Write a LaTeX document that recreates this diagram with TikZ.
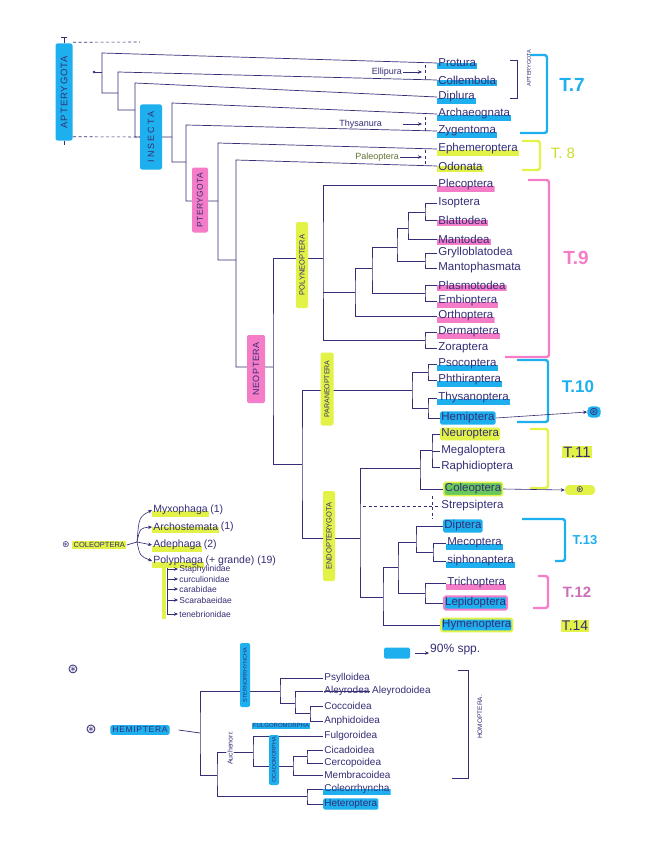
\documentclass[tikz,border=0pt]{standalone}
\usepackage{fontspec}
\setmainfont{Liberation Sans}
\newfontfamily\symf{DejaVu Sans}
\usetikzlibrary{arrows.meta}
\definecolor{ink}{RGB}{52,46,118}
\definecolor{sky}{RGB}{30,176,238}
\definecolor{rose}{RGB}{245,125,200}
\definecolor{lime}{RGB}{226,242,70}
\definecolor{limetxt}{RGB}{206,220,40}
\definecolor{moss}{RGB}{104,200,92}
\definecolor{paleo}{RGB}{96,116,52}
\tikzset{
  br/.style={draw=ink,line width=.7pt},
  dsh/.style={draw=ink,line width=.6pt,dash pattern=on 3pt off 2.5pt},
  hint/.style={-{Stealth[length=4pt,width=3.5pt]},draw=ink,line width=.6pt},
  taxon/.style={anchor=west,inner sep=1.2pt,text=ink,font=\fontsize{11.5}{12}\selectfont},
  uline/.style={fill=white,path picture={\fill[#1] ([yshift=-1pt]path picture bounding box.south west)
                rectangle ([yshift=5.5pt]path picture bounding box.south east);}},
  boxed/.style={fill=#1,rounded corners=1.5pt},
  clade/.style={rotate=90,inner sep=1pt,text=ink,rounded corners=2pt},
  note/.style={anchor=east,inner sep=1pt,text=ink,font=\fontsize{9}{9}\selectfont},
  tlab/.style={inner sep=1pt,font=\fontsize{17}{17}\selectfont\bfseries},
  tbrk/.style={line width=2.4pt,rounded corners=2.5pt},
  hemtax/.style={taxon,font=\fontsize{10}{10}\selectfont},
  coltax/.style={taxon,font=\fontsize{10.5}{11}\selectfont},
  famtax/.style={taxon,font=\fontsize{8.5}{9}\selectfont},
  cnt/.style={text=ink,inner sep=1pt,font=\fontsize{10.5}{11}\selectfont}
}
\begin{document}
\begin{tikzpicture}[x=1pt,y=-1pt]
  \fill[white] (0,0) rectangle (655,848);
  \useasboundingbox (0,0) rectangle (655,848);

  % orders
  \node[taxon,uline=sky] (prot) at (437,63) {Protura};
  \node[taxon,uline=sky] (coll) at (437,80) {Collembola};
  \node[taxon,uline=sky] (dipl) at (437,97) {Diplura};
  \node[taxon,uline=sky] (arch) at (437,114) {Archaeognata};
  \node[taxon,uline=sky] (zyge) at (437,131) {Zygentoma};
  \node[taxon,uline=lime] (ephe) at (437,149) {Ephemeroptera};
  \node[taxon,uline=lime] (odon) at (437,166) {Odonata};
  \node[taxon,uline=rose] (plec) at (437,185) {Plecoptera};
  \node[taxon] (isop) at (437,203) {Isoptera};
  \node[taxon,uline=rose] (blat) at (437,220) {Blattodea};
  \node[taxon,uline=rose] (mant) at (437,239) {Mantodea};
  \node[taxon] (gryl) at (437,253) {Grylloblatodea};
  \node[taxon] (mtph) at (437,268) {Mantophasmata};
  \node[taxon,uline=rose] (phas) at (437,285) {Plasmotodea};
  \node[taxon,uline=rose] (embi) at (437,301) {Embioptera};
  \node[taxon,uline=rose] (orth) at (437,316) {Orthoptera};
  \node[taxon,uline=rose] (derm) at (437,332) {Dermaptera};
  \node[taxon] (zora) at (437,348) {Zoraptera};
  \node[taxon,uline=sky] (psoc) at (437,364) {Psocoptera};
  \node[taxon,uline=sky] (phth) at (437,380) {Phthiraptera};
  \node[taxon,uline=sky] (thys) at (437,398) {Thysanoptera};
  \node[taxon,boxed=sky] (hemi) at (440,418) {Hemiptera};
  \node[taxon,boxed=lime] (neur) at (440,434) {Neuroptera};
  \node[taxon] (mega) at (440,451) {Megaloptera};
  \node[taxon] (raph) at (440,467) {Raphidioptera};
  \node[taxon,boxed=moss,draw=lime,line width=1.5pt] (cole) at (443,489) {Coleoptera};
  \node[taxon] (strp) at (440,506) {Strepsiptera};
  \node[taxon,boxed=sky] (dipt) at (443,526) {Diptera};
  \node[taxon,uline=sky] (meco) at (446,543) {Mecoptera};
  \node[taxon,uline=sky] (siph) at (446,561) {siphonaptera};
  \node[taxon,uline=rose] (tric) at (446,583) {Trichoptera};
  \node[taxon,boxed=sky,draw=rose,line width=2pt] (lepi) at (443,603) {Lepidoptera};
  \node[taxon,boxed=sky,draw=lime,line width=2pt] (hyme) at (440,625) {Hymenoptera};

  % internal nodes
  \coordinate (root) at (94,72);
  \coordinate (n1t) at (102,53);
  \coordinate (n2t) at (118,72);  \coordinate (n2m) at (118,93);
  \coordinate (n3t) at (135,83);  \coordinate (n3m) at (135,110);
  \coordinate (n4t) at (172,103); \coordinate (n4m) at (172,137);
  \coordinate (n5t) at (186,125); \coordinate (n5m) at (186,162);
  \coordinate (n6t) at (218,143); \coordinate (n6m) at (218,201);
  \coordinate (n7t) at (236,160); \coordinate (n7m) at (236,260);
  \coordinate (nNeo) at (273,367);
  \coordinate (nPol) at (323,258);
  \coordinate (nA) at (355,292);
  \coordinate (nB) at (372,268);
  \coordinate (nC) at (397,247);
  \coordinate (nD) at (408,228);
  \coordinate (bIB) at (425,212);
  \coordinate (bGM) at (425,261);
  \coordinate (bPE) at (425,293);
  \coordinate (bDZ) at (425,340);
  \coordinate (nPE) at (302,464);
  \coordinate (nPar) at (412,390);
  \coordinate (bPP) at (428,372);
  \coordinate (bTH) at (428,408);
  \coordinate (nEn) at (360,538);
  \coordinate (nNMR) at (420,468);
  \coordinate (bNMR) at (432,450);
  \coordinate (nHy) at (383,597);
  \coordinate (nDL) at (398,567);
  \coordinate (nDMS) at (416,542);
  \coordinate (bMS) at (433,552);
  \coordinate (bTL) at (425,593);

  % tree
  \draw[br] (root) -- (n1t |- root);
  \fill[ink] (root) circle (1.3pt);
  \draw[br] (prot.west) -- (n1t) |- (n2m);
  \draw[br] (coll.west) -- (n2t) |- (n3m);
  \draw[br] (dipl.west) -- (n3t) |- (n4m);
  \draw[br] (arch.west) -- (n4t) |- (n5m);
  \draw[br] (zyge.west) -- (n5t) |- (n6m);
  \draw[br] (ephe.west) -- (n6t) |- (n7m);
  \draw[br] (odon.west) -- (n7t) |- (nNeo);
  \draw[br] (nPol) -| (nNeo) |- (nPE);
  \draw[br] (plec.west) -| (nPol) |- (bDZ);
  \draw[br] (nPol |- nA) -- (nA);
  \draw[br] (nB) -| (nA) |- (orth.west);
  \draw[br] (nC) -| (nB) |- (bPE);
  \draw[br] (nD) -| (nC) |- (bGM);
  \draw[br] (bIB) -| (nD) |- (mant.west);
  \draw[br] (isop.west) -| (bIB) |- (blat.west);
  \draw[br] (gryl.west) -| (bGM) |- (mtph.west);
  \draw[br] (phas.west) -| (bPE) |- (embi.west);
  \draw[br] (derm.west) -| (bDZ) |- (zora.west);
  \draw[br] (nPar) -| (nPE) |- (nEn);
  \draw[br] (bPP) -| (nPar) |- (bTH);
  \draw[br] (psoc.west) -| (bPP) |- (phth.west);
  \draw[br] (thys.west) -| (bTH) |- (hemi.west);
  \draw[br] (nNMR) -| (nEn) |- (nHy);
  \draw[br] (bNMR) -| (nNMR) |- (cole.west);
  \draw[br] (neur.west) -| (bNMR) |- (raph.west);
  \draw[br] (mega.west) -- (bNMR |- mega.west);
  \draw[br] (nDL) -| (nHy) |- (hyme.west);
  \draw[br] (nDMS) -| (nDL) |- (bTL);
  \draw[br] (dipt.west) -| (nDMS) |- (bMS);
  \draw[br] (meco.west) -| (bMS) |- (siph.west);
  \draw[br] (tric.west) -| (bTL) |- (lepi.west);
  \draw[dsh] ([xshift=3pt]nEn |- strp.west) -- (strp.west);
  \draw[dsh] ([xshift=-11pt]cole.south west) -- ([xshift=-11pt]dipt.north west);

  % dashed groupings
  \node[note] (ellip) at (403,72) {Ellipura};
  \coordinate (ellT) at (425,65); \coordinate (ellB) at (425,80);
  \draw[dsh] (ellT) -- (ellB);
  \draw[hint,shorten >=3pt] (ellip.east) -- (ellT |- ellip.east);
  \node[note] (thysa) at (383,124) {Thysanura};
  \coordinate (thyT) at (425,117); \coordinate (thyB) at (425,132);
  \draw[dsh] (thyT) -- (thyB);
  \draw[hint,shorten <=20pt,shorten >=3pt] (thysa.east) -- (thyT |- thysa.east);
  \node[note,text=paleo] (paleo) at (400,157) {Paleoptera};
  \coordinate (palT) at (425,150); \coordinate (palB) at (425,166);
  \draw[dsh] (palT) -- (palB);
  \draw[hint,shorten >=3pt] (paleo.east) -- (palT |- paleo.east);

  % clade names
  \node[clade,fill=sky,minimum width=97pt,minimum height=17pt,
        font=\fontsize{9.5}{10}\selectfont\addfontfeature{LetterSpace=10}] (apt) at (64,92) {APTERYGOTA};
  \node[clade,fill=sky,minimum width=65pt,minimum height=22pt,
        font=\fontsize{9}{9}\selectfont\addfontfeature{LetterSpace=22}] (ins) at (151,137) {INSECTA};
  \node[clade,fill=rose,minimum width=65pt,minimum height=16pt,
        font=\fontsize{8.5}{9}\selectfont\addfontfeature{LetterSpace=4}] (pte) at (200,200) {PTERYGOTA};
  \node[clade,fill=rose,minimum width=68pt,minimum height=18pt,
        font=\fontsize{9}{9}\selectfont\addfontfeature{LetterSpace=6}] (neo) at (256,369) {NEOPTERA};
  \node[clade,fill=lime,minimum width=86pt,minimum height=12pt,
        font=\fontsize{7.5}{8}\selectfont] (pol) at (302,265) {POLYNEOPTERA};
  \node[clade,fill=lime,minimum width=73pt,minimum height=13pt,
        font=\fontsize{7}{7}\selectfont] (par) at (327,389) {PARANEOPTERA};
  \node[clade,fill=lime,minimum width=90pt,minimum height=12pt,
        font=\fontsize{7.5}{8}\selectfont] (endo) at (329,536) {ENDOPTERYGOTA};
  \coordinate (aptT) at (140,42);
  \draw[br] (apt.east) -- ++(0,-6) coordinate (aptk) ++(-3,0) -- ++(6,0);
  \draw[dsh] (aptk) ++(9,5) -- (aptT);
  \draw[br] (apt.west) -- ++(0,4);
  \draw[dsh] (apt.west) ++(9,-4) -- (ins.north);

  % right brackets
  \node[clade,font=\fontsize{5.5}{6}\selectfont] (apt2) at (529,68) {APTERYGOTA};
  \draw[br,line width=.5pt] (510,60) -| (517,98) -- (510,98);
  \draw[tbrk,sky] (530,55) -| (547,133) -- (520,133);
  \draw[tbrk,lime] (522,141) -| (540,170) -- (522,170);
  \draw[tbrk,rose] (528,180) -| (549,357) -- (505,357);
  \draw[tbrk,sky] (517,360) -| (548,422) -- (517,422);
  \draw[tbrk,lime] (530,429) -| (548,488) -- (530,488);
  \draw[tbrk,sky] (522,519) -| (565,561) -- (555,561);
  \draw[tbrk,rose] (538,576) -| (548,608) -- (533,608);
  \node[tlab,text=sky,font=\fontsize{19}{19}\selectfont\bfseries] (t7) at (572,85) {T.7};
  \node[tlab,text=limetxt,font=\fontsize{15}{15}\selectfont] (t8) at (563,153) {T. 8};
  \node[tlab,text=rose,font=\fontsize{19}{19}\selectfont\bfseries] (t9) at (576,258) {T.9};
  \node[tlab,text=sky] (t10) at (578,387) {T.10};
  \node[tlab,fill=lime,text=ink,font=\fontsize{15}{15}\selectfont] (t11) at (577,452) {T.11};
  \node[tlab,text=sky,font=\fontsize{13}{13}\selectfont\bfseries] (t13) at (585,540) {T.13};
  \node[tlab,text=rose!80!ink,font=\fontsize{15}{15}\selectfont\bfseries] (t12) at (577,592) {T.12};
  \node[tlab,fill=lime,text=ink,font=\fontsize{14}{14}\selectfont] (t14) at (575,626) {T.14};

  % links to the two insets
  \node[fill=sky,rounded corners=4pt,inner sep=2pt,text=ink,font=\symf\fontsize{11}{11}\selectfont] (hsR) at (594,412) {⊛};
  \draw[hint] (hemi.east) -- (hsR.west);
  \node[fill=lime,rounded corners=4pt,minimum width=30pt,inner sep=2pt,text=ink,
        font=\symf\fontsize{9}{9}\selectfont] (csR) at (580,490) {⊛};
  \draw[hint] (cole.east) -- (csR.west);
  \node[fill=sky,minimum width=26pt,minimum height=11pt,inner sep=0pt,rounded corners=1.5pt] (lgb) at (397,653) {};
  \node[anchor=west,inner sep=1pt,text=ink,font=\fontsize{12}{12}\selectfont] (lgt) at (429,650) {90\% spp.};
  \draw[hint,shorten <=5pt] (lgb.east) -- (lgt.west |- lgb.east);

  % coleoptera inset
  \node[inner sep=1pt,text=ink,font=\symf\fontsize{9}{9}\selectfont] (colst) at (66,545) {⊛};
  \node[anchor=west,fill=lime,inner sep=1.5pt,text=ink,font=\fontsize{7.5}{8}\selectfont] (colnm) at (72,545) {COLEOPTERA};
  \coordinate (cj) at (137,542);
  \node[coltax,uline=lime,label={[cnt]east:(1)}] (myxo) at (152,510) {Myxophaga};
  \node[coltax,uline=lime,label={[cnt]east:(1)}] (arcs) at (152,527) {Archostemata};
  \node[coltax,uline=lime,label={[cnt]east:(2)}] (adep) at (152,545) {Adephaga};
  \node[coltax,uline=lime,label={[cnt]east:(+ grande) (19)}] (poly) at (152,561) {Polyphaga};
  \draw[br] (colnm.east) -- (cj);
  \draw[hint] (cj) .. controls +(2,-25) .. (myxo.west);
  \draw[hint] (cj) .. controls +(3,-14) .. (arcs.west);
  \draw[hint] (cj) -- (adep.west);
  \draw[hint] (cj) .. controls +(3,14) .. (poly.west);
  \node[famtax] (stap) at (178,569) {Staphylinidae};
  \node[famtax] (curc) at (178,579) {curculionidae};
  \node[famtax] (cara) at (178,589) {carabidae};
  \node[famtax] (scar) at (178,600) {Scarabaeidae};
  \node[famtax] (tene) at (178,614) {tenebrionidae};
  \coordinate (famt) at (167,568);
  \draw[lime,line width=4pt] ([xshift=-3pt]famt) -- ([xshift=-3pt]famt |- tene.south);
  \draw[br] (famt) -- (famt |- tene.west);
  \foreach \f in {stap,curc,cara,scar,tene}
    \draw[hint] (famt |- \f.west) -- (\f.west);

  % hemiptera inset
  \node[inner sep=1pt,text=ink,font=\symf\fontsize{13}{13}\selectfont] (hs1) at (73,669) {⊛};
  \node[inner sep=1pt,text=ink,font=\symf\fontsize{13}{13}\selectfont] (hs2) at (91,729) {⊛};
  \node[fill=sky,inner sep=2pt,rounded corners=1.5pt,text=ink,
        font=\fontsize{8.5}{9}\selectfont\addfontfeature{LetterSpace=8}] (hnm) at (140,730) {HEMIPTERA};
  \node[hemtax] (psyl) at (323,678) {Psylloidea};
  \node[hemtax,label={[hemtax,anchor=west]east:Aleyrodoidea}] (aley) at (323,691) {Aleyrodea};
  \node[hemtax] (cocc) at (323,706) {Coccoidea};
  \node[hemtax] (aphi) at (323,721) {Anphidoidea};
  \node[hemtax] (fulg) at (323,736) {Fulgoroidea};
  \node[hemtax] (cica) at (323,750) {Cicadoidea};
  \node[hemtax] (cerc) at (323,763) {Cercopoidea};
  \node[hemtax] (memb) at (323,775) {Membracoidea};
  \node[hemtax,uline=sky] (colr) at (323,789) {Coleorrhyncha};
  \node[hemtax,boxed=sky] (hete) at (323,804) {Heteroptera};
  \draw[br] ([xshift=1pt]aley.west) -- ([xshift=-1pt]aley.east);
  \coordinate (nH) at (200,733);
  \coordinate (nSt) at (280,691);
  \coordinate (nAl) at (295,703);
  \coordinate (bCA) at (310,713.5);
  \coordinate (nHB) at (217,775);
  \coordinate (nAu) at (253,752);
  \coordinate (nCi) at (293,766);
  \coordinate (bCC) at (307,756.5);
  \coordinate (bCH) at (307,796.5);
  \draw[br] ([xshift=9pt]hnm.east) -- (nH);
  \draw[br] (nSt) -| (nH) |- (nHB);
  \draw[br] (psyl.west) -| (nSt) |- (nAl);
  \draw[br] (aley.west) -| (nAl) |- (bCA);
  \draw[br] (cocc.west) -| (bCA) |- (aphi.west);
  \draw[br] (nAu) -| (nHB) |- (bCH);
  \draw[br] (fulg.west) -| (nAu) |- (nCi);
  \draw[br] (bCC) -| (nCi) |- (memb.west);
  \draw[br] (cica.west) -| (bCC) |- (cerc.west);
  \draw[br] (colr.west) -| (bCH) |- (hete.west);
  \node[clade,fill=sky,minimum width=64pt,minimum height=10pt,
        font=\fontsize{5.5}{6}\selectfont] (ster) at (245,675) {STERNORRHYNCHA};
  \node[clade,fill=white,font=\fontsize{7}{7}\selectfont] (auch) at (230,748) {Auchenorr.};
  \node[clade,fill=sky,minimum width=50pt,minimum height=10pt,
        font=\fontsize{5.5}{6}\selectfont] (cicm) at (274,760) {CICADOMORPHA};
  \node[inner sep=1pt,text=ink,uline=sky,font=\fontsize{6}{6}\selectfont] (fulm) at (281,725) {FULGOROMORPHA};
  \coordinate (hoT) at (458,670); \coordinate (hoB) at (452,778);
  \draw[br] (hoT) -- ++(10,0) |- (hoB);
  \node[clade,font=\fontsize{6.5}{7}\selectfont] (homo) at (480,717) {HOMOPTERA.};
\end{tikzpicture}
\end{document}
